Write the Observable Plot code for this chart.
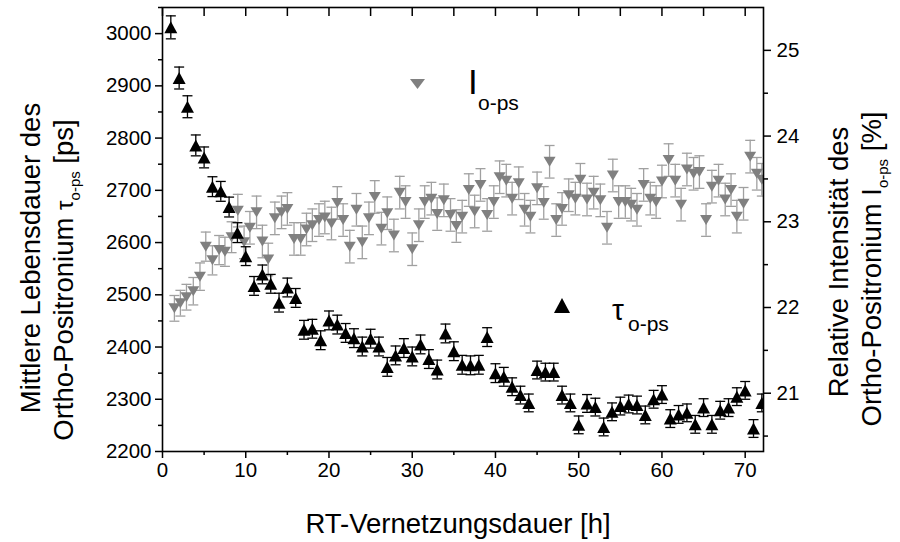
<!DOCTYPE html>
<html><head><meta charset="utf-8">
<script src="https://cdn.jsdelivr.net/npm/d3@7"></script>
<script src="https://cdn.jsdelivr.net/npm/@observablehq/plot@0.6"></script>
<style>
html,body{margin:0;padding:0;background:#fff;}
#chart{width:900px;height:542px;}
</style></head><body><div id="chart"></div>
<script>
// ---- data ----
const hours = [1,2,3,4,5,6,7,8,9,10,11,12,13,14,15,16,17,18,19,20,21,22,23,24,25,26,27,28,29,30,31,32,33,34,35,36,
  37,38,39,40,41,42,43,44,45,46,47,48,49,50,51,52,53,54,55,56,57,58,59,60,61,62,63,64,65,66,67,68,69,70,71,72];
const tau = [3012,2915,2860,2786,2763,2707,2698,2668,2619,2574,
  2517,2539,2521,2485,2514,2494,2433,2435,2413,2451,
  2443,2427,2417,2401,2416,2401,2362,2384,2398,2382,
  2405,2377,2357,2426,2392,2366,2365,2366,2419,2350,
  2343,2324,2308,2293,2356,2352,2352,2308,2293,2251,
  2292,2285,2247,2276,2287,2291,2289,2270,2300,2309,
  2263,2271,2274,2252,2284,2252,2279,2284,2305,2317,
  2244,2293];
const tauErr = [22,21,21,20,20,19,19,19,19,18,
  18,18,18,18,18,18,18,18,18,18,
  18,18,18,18,18,18,18,18,18,18,
  18,18,18,18,18,18,18,18,18,18,
  18,17,17,17,17,17,17,17,17,17,
  17,17,17,17,17,17,17,17,17,17,
  17,17,17,17,17,17,17,17,17,17,
  17,17];
const intHours = [1.43,2.15,2.88,3.7,4.5,5.2,6.0,6.8,7.5,8.3,
  9.05,9.8,10.5,11.3,12.0,12.7,13.5,14.3,15.0,15.8,
  16.6,17.3,18.0,18.8,19.5,20.3,21.0,21.7,22.5,23.3,
  24.0,24.8,25.5,26.3,27.0,27.8,28.5,29.2,30.0,30.8,
  31.5,32.3,33.0,33.8,34.6,35.3,36.0,36.8,37.5,38.2,
  39.0,39.8,40.5,41.3,42.0,42.8,43.5,44.2,45.0,45.8,
  46.5,47.3,48.0,48.8,49.6,50.2,51.0,51.8,52.6,53.4,
  54.1,54.8,55.6,56.3,57.0,57.8,58.6,59.3,60.0,60.8,
  61.6,62.3,63.0,63.8,64.5,65.3,66.0,66.8,67.6,68.3,
  69.0,69.8,70.6,71.4,72.0];
const intensity = [21.99,22.05,22.12,22.19,22.36,22.71,22.55,22.67,22.65,22.82,
  23.13,22.76,22.93,23.11,22.77,22.56,23.04,23.11,23.15,22.80,
  22.80,22.91,22.96,23.02,23.05,22.98,23.22,23.02,22.71,23.14,
  22.76,23.04,23.29,22.92,23.10,22.84,23.34,23.23,22.68,22.96,
  23.23,23.27,23.09,23.25,23.08,22.95,23.06,23.37,23.12,23.43,
  23.08,23.23,23.52,23.48,23.27,23.45,23.14,23.06,23.39,23.22,
  23.70,23.02,23.15,23.31,23.27,23.49,23.26,23.34,23.25,22.93,
  23.54,23.23,23.23,23.20,23.14,23.43,23.27,23.23,23.47,23.72,
  23.48,23.20,23.61,23.56,23.58,23.02,23.41,23.48,23.26,23.37,
  23.06,23.21,23.76,23.56,23.49];
const intErr = [0.15,0.15,0.15,0.16,0.16,0.17,0.17,0.17,0.17,0.18,
  0.19,0.19,0.19,0.19,0.19,0.19,0.19,0.19,0.19,0.19,
  0.19,0.19,0.19,0.19,0.19,0.19,0.19,0.19,0.19,0.19,
  0.19,0.19,0.19,0.19,0.19,0.19,0.19,0.19,0.19,0.19,
  0.19,0.19,0.19,0.19,0.19,0.19,0.19,0.19,0.19,0.19,
  0.19,0.19,0.19,0.19,0.19,0.19,0.19,0.19,0.19,0.19,
  0.19,0.19,0.19,0.19,0.19,0.19,0.19,0.19,0.19,0.19,
  0.19,0.19,0.19,0.19,0.19,0.19,0.19,0.19,0.19,0.19,
  0.19,0.19,0.19,0.19,0.19,0.19,0.19,0.19,0.19,0.19,
  0.19,0.19,0.19,0.19,0.19];
const xTicks = [0,10,20,30,40,50,60,70];
const xMinorTicks = [5,15,25,35,45,55,65];
const leftTicks = [2200,2300,2400,2500,2600,2700,2800,2900,3000];
const leftMinorTicks = [2250,2350,2450,2550,2650,2750,2850,2950,3050];
const rightTicks = [21,22,23,24,25];
const rightMinorTicks = [20.5,21.5,22.5,23.5,24.5];

// ---- scales / helpers ----
const xDomain = [0, 72.2];
const yDomain = [2200, 3050];
const iDomain = [20.32, 25.5];
const toLeft = v => yDomain[0] + (v - iDomain[0]) * (yDomain[1] - yDomain[0]) / (iDomain[1] - iDomain[0]);
const fromLeft = y => iDomain[0] + (y - yDomain[0]) * (iDomain[1] - iDomain[0]) / (yDomain[1] - yDomain[0]);

const tauData = hours.map((h, i) => ({h, v: tau[i], e: tauErr[i]}));
const intData = intHours.map((h, i) => ({h, v: intensity[i], e: intErr[i]}));

function tri(dir, ratio) {
  return {
    draw(ctx, size) {
      const r = Math.sqrt(size / Math.PI), w = r * ratio;
      if (dir > 0) { ctx.moveTo(0, -r); ctx.lineTo(w, r); ctx.lineTo(-w, r); }
      else { ctx.moveTo(0, r); ctx.lineTo(w, -r); ctx.lineTo(-w, -r); }
      ctx.closePath();
    }
  };
}
const cap = { draw(ctx, size) { const r = Math.sqrt(size / Math.PI); ctx.moveTo(-r, 0); ctx.lineTo(r, 0); } };
const triUp = tri(1, 1.08), triDown = tri(-1, 1.2);

const GRAY = "#808080", GRAY_ERR = "#a0a0a0";
const FONT = "'Liberation Sans', Arial, sans-serif";

const svg = Plot.plot({
  width: 900, height: 542,
  marginLeft: 162, marginRight: 137, marginTop: 7, marginBottom: 91,
  style: {fontFamily: FONT, background: "white", color: "black"},
  x: {domain: xDomain},
  y: {domain: yDomain},
  marks: [
    // intensity series (gray)
    Plot.ruleX(intData, {x: "h", y1: d => toLeft(d.v - d.e), y2: d => toLeft(d.v + d.e), stroke: GRAY_ERR, strokeWidth: 1.3, clip: true}),
    Plot.dot(intData, {x: "h", y: d => toLeft(d.v + d.e), symbol: cap, r: 5, stroke: GRAY_ERR, fill: "none", strokeWidth: 1.3, clip: true}),
    Plot.dot(intData, {x: "h", y: d => toLeft(d.v - d.e), symbol: cap, r: 5, stroke: GRAY_ERR, fill: "none", strokeWidth: 1.3, clip: true}),
    Plot.dot(intData, {x: "h", y: d => toLeft(d.v), symbol: triDown, r: 5, fill: GRAY, stroke: "none", clip: true}),
    // lifetime series (black)
    Plot.ruleX(tauData, {x: "h", y1: d => d.v - d.e, y2: d => d.v + d.e, stroke: "black", strokeWidth: 1.3, clip: true}),
    Plot.dot(tauData, {x: "h", y: d => d.v + d.e, symbol: cap, r: 5, stroke: "black", fill: "none", strokeWidth: 1.3, clip: true}),
    Plot.dot(tauData, {x: "h", y: d => d.v - d.e, symbol: cap, r: 5, stroke: "black", fill: "none", strokeWidth: 1.3, clip: true}),
    Plot.dot(tauData, {x: "h", y: "v", symbol: triUp, r: 6, fill: "black", stroke: "none", clip: true}),
    // axes
    Plot.axisY(leftTicks, {anchor: "left", tickSize: 7, tickPadding: 4, fontSize: 20.5, strokeWidth: 1.5,
      tickFormat: d => String(d), label: null}),
    Plot.axisY(leftMinorTicks, {anchor: "left", tickSize: 4, tickFormat: () => "", strokeWidth: 1.5, label: null}),
    Plot.axisY(rightTicks.map(toLeft), {anchor: "right", tickSize: 7, tickPadding: 6, fontSize: 20.5, strokeWidth: 1.5,
      tickFormat: d => String(Math.round(fromLeft(d))), label: null}),
    Plot.axisY(rightMinorTicks.map(toLeft), {anchor: "right", tickSize: 4, tickFormat: () => "", strokeWidth: 1.5, label: null}),
    Plot.axisX(xTicks, {anchor: "bottom", tickSize: 7, tickPadding: 4, fontSize: 20.5, strokeWidth: 1.5,
      tickFormat: d => String(d), label: null}),
    Plot.axisX(xMinorTicks, {anchor: "bottom", tickSize: 4, tickFormat: () => "", strokeWidth: 1.5, label: null}),
    Plot.axisX(xTicks.concat(xMinorTicks), {anchor: "top", tickSize: 8, dy: 8, tickFormat: () => "", strokeWidth: 1.5, label: null}),
    Plot.frame({stroke: "black", strokeWidth: 1.6})
  ]
});

const s = d3.select(svg);
// axis titles
s.append("text").attr("x", 458).attr("y", 533).attr("text-anchor", "middle")
  .attr("font-size", 27.5).text("RT-Vernetzungsdauer [h]");

function vtitle(x, y, parts) {
  const t = s.append("text").attr("transform", `translate(${x},${y}) rotate(-90)`)
    .attr("text-anchor", "middle").attr("font-size", 27.5);
  parts.forEach(p => {
    const ts = t.append("tspan").text(p.t);
    if (p.fs) ts.attr("font-size", p.fs);
    if (p.dy) ts.attr("dy", p.dy);
  });
  return t;
}
vtitle(40, 258, [{t: "Mittlere Lebensdauer des"}]);
vtitle(73, 280, [{t: "Ortho-Positronium "}, {t: "τ", fs: 24}, {t: "o-ps", fs: 15, dy: 7}, {t: " [ps]", dy: -7}]);
vtitle(848, 262, [{t: "Relative Intensität des"}]);
vtitle(881, 269, [{t: "Ortho-Positronium I"}, {t: "o-ps", fs: 15, dy: 7}, {t: " [%]", dy: -7}]);

// legend
const legend = s.append("g").attr("text-anchor", "start");
legend.append("path").attr("transform", "translate(417.5,84)")
  .attr("d", d3.symbol(tri(-1, 1.5), Math.PI * 25)()).attr("fill", GRAY);
legend.append("text").attr("x", 468).attr("y", 94).attr("font-size", 35).text("I");
legend.append("text").attr("x", 478).attr("y", 110).attr("font-size", 21).text("o-ps");
legend.append("path").attr("transform", "translate(562,305.5)")
  .attr("d", d3.symbol(tri(1, 1.07), Math.PI * 7.5 * 7.5)()).attr("fill", "black");
legend.append("text").attr("x", 612).attr("y", 320).attr("font-size", 30).text("τ");
legend.append("text").attr("x", 628).attr("y", 331).attr("font-size", 21).text("o-ps");

document.getElementById("chart").appendChild(svg);
</script>
</body></html>
